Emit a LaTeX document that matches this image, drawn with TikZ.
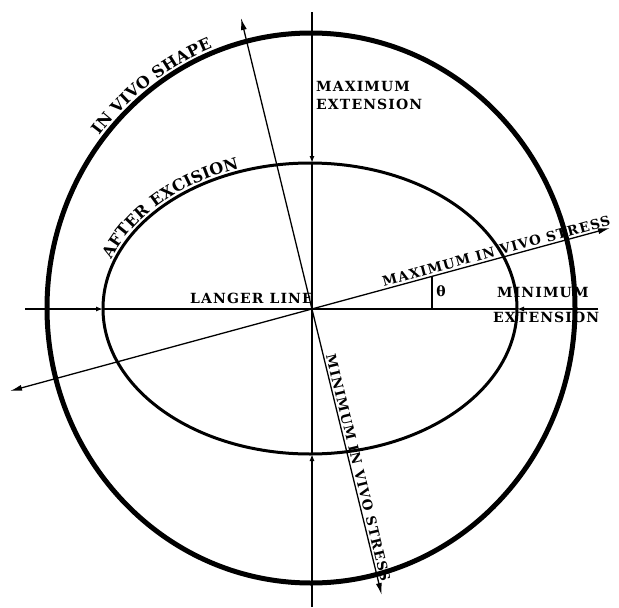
\documentclass[tikz,border=0pt]{standalone}
\usepackage{fontspec}
\newfontfamily\labfont[LetterSpace=8]{DejaVu Serif}
\newfontfamily\arcfont{DejaVu Serif}
\usetikzlibrary{arrows.meta,decorations.text}
\newcommand\lbl{\fontsize{14}{15}\selectfont\labfont\bfseries}
\newcommand\lbls{\fontsize{13.5}{14}\selectfont\labfont\bfseries}
\newcommand\arcA{\fontsize{16}{16}\selectfont\arcfont\bfseries}
\newcommand\arcB{\fontsize{16}{16}\selectfont\arcfont\bfseries}
\tikzset{
  thinline/.style={line width=1.3pt},
  outerline/.style={line width=5pt},
  innerline/.style={line width=3pt},
  smalltip/.style={-{Latex[length=7pt,width=5pt]}},
  bothtips/.style={{Latex[length=12pt,width=6pt]}-{Latex[length=12pt,width=6pt]}},
  txt/.style={inner sep=0pt,font=\lbl},
  stxt/.style={inner sep=0pt,font=\lbls},
}
\begin{document}
\begin{tikzpicture}[x=1pt,y=-1pt]
\useasboundingbox (0,0) rectangle (619,608);
% shapes
\coordinate (oc) at (311,308);
\coordinate (ic) at (310,308.5);
\draw[outerline] (oc) ellipse [x radius=264pt, y radius=275pt];
\draw[innerline] (ic) ellipse [x radius=207pt, y radius=145.5pt];
% axes
\coordinate (O) at (312,309);
\coordinate (vt) at (312,12);
\coordinate (et) at (312,163);
\coordinate (eb) at (312,454);
\coordinate (vb) at (312,607);
\coordinate (hl) at (25,309);
\coordinate (el) at (103,309);
\coordinate (er) at (517,309);
\coordinate (hr) at (598,309);
\draw[thinline,smalltip] (vt) -- (et);
\draw[thinline] (et) -- (eb);
\draw[thinline,smalltip] (vb) -- (eb);
\draw[thinline,smalltip] (hl) -- (el);
\draw[thinline] (el) -- (er);
\draw[thinline,smalltip] (hr) -- (er);
% stress lines
\coordinate (ma) at (10,391);
\coordinate (mb) at (610,228);
\coordinate (na) at (241,18);
\coordinate (nb) at (381.7,595);
\draw[thinline,bothtips] (ma) -- (mb);
\draw[thinline,bothtips] (na) -- (nb);
% angle mark
\coordinate (angtop) at (432,276.4);
\coordinate (angbot) at (432,309);
\draw[thinline] (angtop) -- (angbot);
\node[inner sep=0pt,font=\fontsize{14}{14}\selectfont\arcfont\bfseries] (anglab) at (441,291) {θ};
% labels
\node[txt,anchor=base west] (maxe1) at (316,91) {MAXIMUM};
\node[txt,anchor=base west] (maxe2) at (316,109) {EXTENSION};
\node[txt,anchor=base west] (langer) at (190,303) {LANGER LINE};
\node[txt,anchor=base west] (mine1) at (497,297) {MINIMUM};
\node[txt,anchor=base west] (mine2) at (493,322) {EXTENSION};
\node[stxt,anchor=base west,rotate=15.2] (maxs) at (383.8,286.8) {MAXIMUM IN VIVO STRESS};
\node[stxt,anchor=base west,rotate=-76.3] (mins) at (325.9,355.4) {MINIMUM IN VIVO STRESS};
% curved labels
\path[decorate,decoration={text along path,text={|\arcA|IN VIVO SHAPE},raise=4.5pt,text align=left}]
  ([shift={(142:264pt and 275pt)}]oc) arc[start angle=142,end angle=92,x radius=264pt,y radius=275pt];
\path[decorate,decoration={text along path,text={|\arcB|AFTER EXCISION},raise=3.5pt,text align=left}]
  ([shift={(161:207pt and 145.5pt)}]ic) arc[start angle=161,end angle=95,x radius=207pt,y radius=145.5pt];
\end{tikzpicture}
\end{document}
